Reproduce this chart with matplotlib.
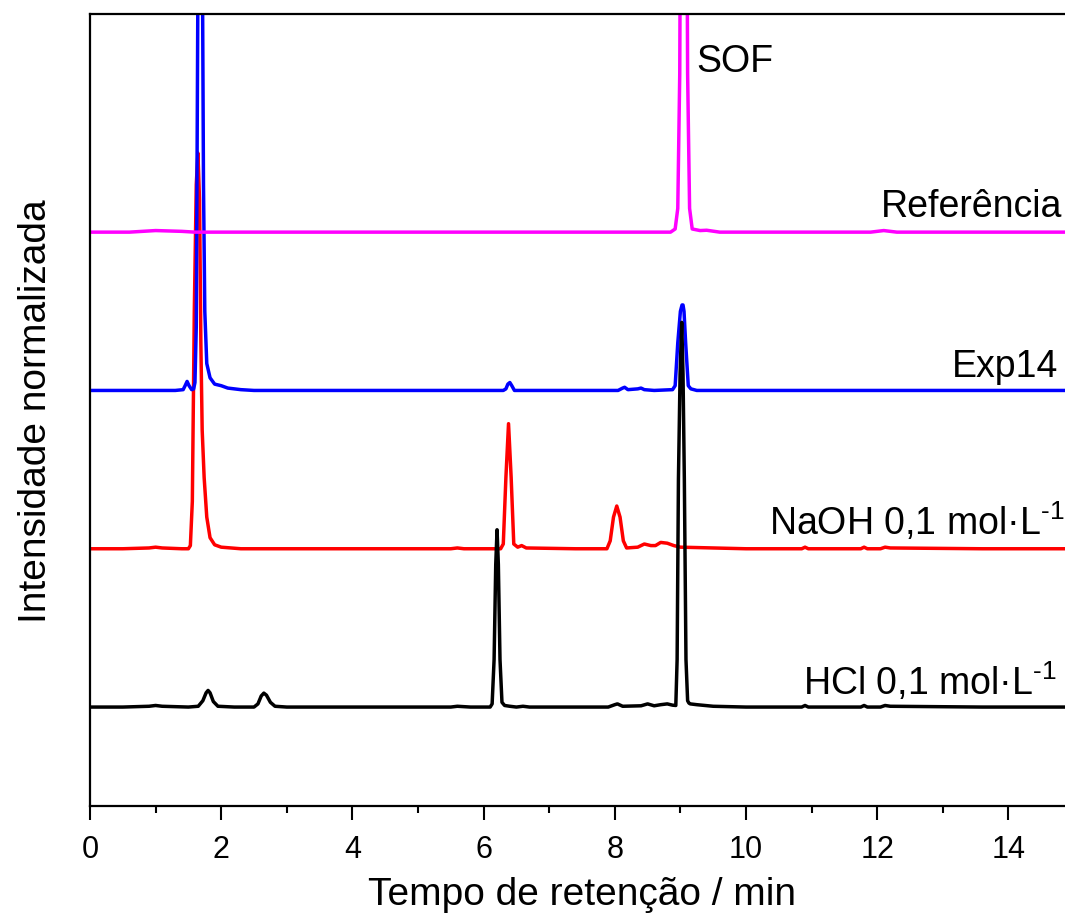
import matplotlib
matplotlib.use("Agg")
import matplotlib.pyplot as plt
from matplotlib.ticker import MultipleLocator

plt.rcParams['font.family'] = ['Liberation Sans', 'DejaVu Sans']
plt.rcParams['mathtext.fontset'] = 'custom'
plt.rcParams['mathtext.rm'] = 'Liberation Sans'
plt.rcParams['mathtext.default'] = 'regular'

# chromatograms: time (min), normalized intensity above own baseline
hcl_t = [0.0, 0.5, 0.9, 1.0, 1.1, 1.5, 1.65, 1.72, 1.77, 1.80, 1.83, 1.88, 1.95, 2.2,
         2.5, 2.56, 2.61, 2.65, 2.69, 2.75, 2.82, 3.0, 5.5, 5.6, 5.8,
         6.10, 6.13, 6.16, 6.185, 6.205, 6.225, 6.25, 6.28, 6.32, 6.4, 6.5, 6.6, 6.7,
         7.9, 8.0, 8.04, 8.12, 8.4, 8.5, 8.6, 8.7, 8.8, 8.88,
         8.93, 8.95, 8.97, 8.995, 9.02, 9.04, 9.06, 9.085, 9.11, 9.13, 9.15, 9.25, 9.5, 10.0,
         10.85, 10.9, 10.95, 11.75, 11.8, 11.85, 12.05, 12.12, 12.2, 13.6, 15.0]
hcl_y = [0.0, 0.0, 0.005, 0.01, 0.005, 0.0, 0.005, 0.04, 0.09, 0.105, 0.09, 0.035, 0.005, 0.0,
         0.0, 0.02, 0.07, 0.088, 0.075, 0.03, 0.005, 0.0, 0.0, 0.005, 0.0,
         0.0, 0.02, 0.3, 0.9, 1.12, 0.9, 0.3, 0.03, 0.01, 0.005, 0.0, 0.005, 0.0,
         0.0, 0.015, 0.02, 0.005, 0.008, 0.02, 0.008, 0.015, 0.02, 0.012,
         0.01, 0.3, 1.44, 2.1, 2.43, 2.1, 1.44, 0.3, 0.04, 0.025, 0.02, 0.015, 0.005, 0.0,
         0.0, 0.01, 0.0, 0.0, 0.01, 0.0, 0.0, 0.01, 0.005, 0.0, 0.0]

naoh_t = [0.0, 0.5, 0.9, 1.0, 1.1, 1.4, 1.50, 1.53, 1.56, 1.59, 1.62, 1.645, 1.67, 1.69,
          1.71, 1.74, 1.78, 1.83, 1.9, 2.0, 2.3, 5.5, 5.6, 5.7,
          6.26, 6.30, 6.34, 6.38, 6.42, 6.46, 6.52, 6.58, 6.65, 7.4,
          7.88, 7.93, 7.98, 8.03, 8.08, 8.13, 8.18, 8.35, 8.45, 8.55, 8.62, 8.7, 8.8, 8.9, 9.0,
          9.5, 10.0, 10.85, 10.9, 10.95, 11.75, 11.8, 11.85, 12.05, 12.12, 12.2, 13.6, 15.0]
naoh_y = [0.0, 0.0, 0.005, 0.01, 0.005, 0.0, 0.0, 0.02, 0.3, 1.5, 2.3, 2.5, 2.2, 1.3,
          0.75, 0.45, 0.2, 0.07, 0.025, 0.01, 0.0, 0.0, 0.005, 0.0,
          0.0, 0.03, 0.45, 0.79, 0.45, 0.03, 0.01, 0.02, 0.005, 0.0,
          0.0, 0.05, 0.2, 0.27, 0.2, 0.05, 0.005, 0.01, 0.03, 0.02, 0.02, 0.04, 0.035, 0.02, 0.01,
          0.005, 0.0, 0.0, 0.01, 0.0, 0.0, 0.01, 0.0, 0.0, 0.01, 0.005, 0.0, 0.0]

exp14_t = [0.0, 1.3, 1.42, 1.45, 1.48, 1.51, 1.55, 1.58, 1.60, 1.62, 1.65, 1.68, 1.71, 1.73,
           1.75, 1.78, 1.83, 1.9, 2.0, 2.1, 2.3, 2.5, 6.3, 6.34, 6.37, 6.40, 6.43, 6.47,
           8.05, 8.12, 8.15, 8.2, 8.35, 8.4, 8.45, 8.6, 8.88,
           8.92, 8.96, 9.0, 9.025, 9.04, 9.055, 9.08, 9.12, 9.16, 9.25, 15.0]
exp14_y = [0.0, 0.0, 0.005, 0.03, 0.057, 0.03, 0.005, 0.01, 0.05, 0.4, 3.0, 4.5, 3.0, 1.3,
           0.5, 0.17, 0.08, 0.04, 0.03, 0.015, 0.005, 0.0, 0.0, 0.01, 0.04, 0.05, 0.03, 0.0,
           0.0, 0.015, 0.02, 0.005, 0.01, 0.015, 0.005, 0.0, 0.005,
           0.03, 0.3, 0.5, 0.54, 0.54, 0.5, 0.3, 0.03, 0.01, 0.0, 0.0]

ref_t = [0.0, 0.6, 1.0, 1.4, 1.6, 8.85, 8.92, 8.96, 8.99, 9.02, 9.05, 9.08, 9.11, 9.14,
         9.18, 9.3, 9.4, 9.6, 11.9, 12.1, 12.3, 15.0]
ref_y = [0.0, 0.0, 0.01, 0.005, 0.0, 0.0, 0.02, 0.15, 1.0, 4.0, 6.0, 4.0, 1.0, 0.15,
         0.02, 0.01, 0.012, 0.0, 0.0, 0.01, 0.0, 0.0]

traces = [
    (naoh_t, naoh_y, 1, '#FF0000'),
    (exp14_t, exp14_y, 2, '#0000FF'),
    (hcl_t, hcl_y, 0, '#000000'),
    (ref_t, ref_y, 3, '#FF00FF'),
]

fig = plt.figure(figsize=(10.65, 9.2), dpi=100)
ax = fig.add_axes([90 / 1065, 1 - 807 / 920, 984 / 1065, 792 / 920])

for t, y, off, col in traces:
    ax.plot(t, [v + off for v in y], color=col, lw=2.5, solid_joinstyle='round')

ax.set_xlim(0, 15)
ax.set_ylim(-0.625, 4.378)

lbl = 27
ax.text(9.25, 4.018, 'SOF', fontsize=lbl, ha='left', va='baseline')
ax.text(14.82, 3.10, 'Referência', fontsize=lbl, ha='right', va='baseline')
ax.text(14.76, 2.09, 'Exp14', fontsize=lbl, ha='right', va='baseline')
ax.text(14.86, 1.093, r'NaOH 0,1 mol·L$^{\text{-}1}$', fontsize=lbl, ha='right', va='baseline')
ax.text(14.74, 0.082, r'HCl 0,1 mol·L$^{\text{-}1}$', fontsize=lbl, ha='right', va='baseline')

ax.xaxis.set_major_locator(MultipleLocator(2))
ax.xaxis.set_minor_locator(MultipleLocator(1))
ax.tick_params(axis='x', which='major', direction='out', length=10, width=1.5,
               labelsize=22, pad=10)
ax.tick_params(axis='x', which='minor', direction='out', length=5, width=1.5)
ax.set_yticks([])
for s in ax.spines.values():
    s.set_linewidth(1.6)

ax.set_xlabel('Tempo de retenção / min', fontsize=28, labelpad=9)
ax.set_ylabel('Intensidade normalizada', fontsize=28, labelpad=26)

fig.savefig('out.png', dpi=100)
